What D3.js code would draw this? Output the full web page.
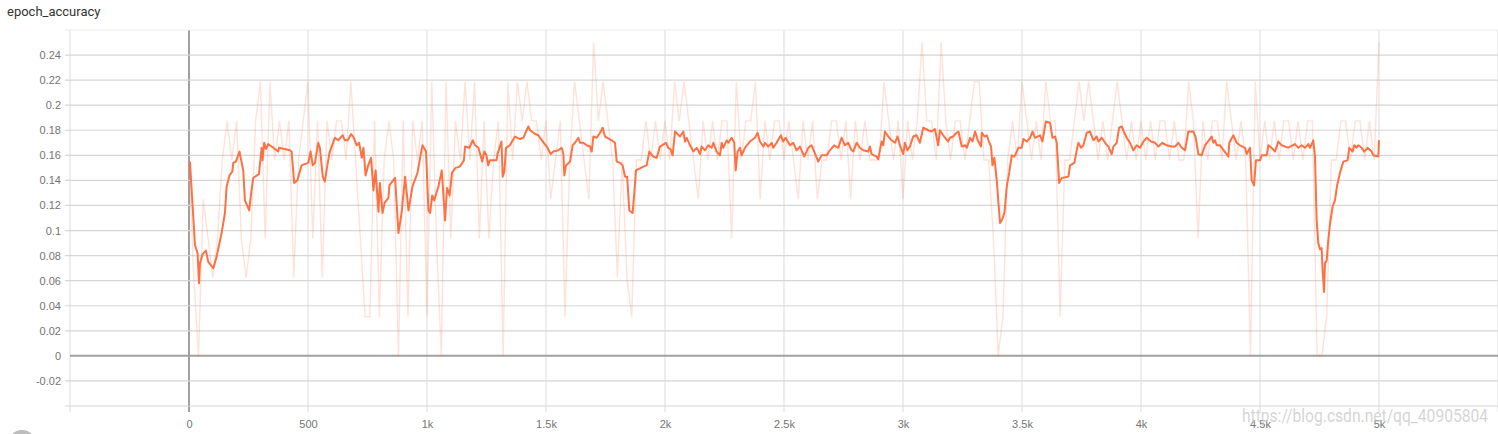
<!DOCTYPE html>
<meta charset='utf-8'>
<style>
body { margin: 0; background: #fff; }
svg { display: block; font-family: Roboto, 'Noto Sans', sans-serif; }
.title { font-size: 13px; fill: #333; }
.axis text { font-size: 11px; fill: #757575; }
.axis path { display: none; }
.watermark { font-size: 19px; fill: #c8c8c8; fill-opacity: 0.75; }
</style>
<svg width='1498' height='434'></svg>
<script src='https://d3js.org/d3.v7.min.js'></script>
<script>

// raw accuracy per logged point: correct predictions out of a batch of 32, one point every 20 steps
var rawEvery = 20;
var rawHits = [
  5,2,0,4,3,2,3,5,6,5,6,3,2,3,6,7,3,7,5,6,5,6,2,5,6,7,
  3,6,2,6,5,6,6,5,7,5,3,1,1,6,1,5,6,5,0,6,1,6,5,6,1,
  7,3,0,7,3,6,5,7,5,7,3,6,3,5,6,0,7,5,7,6,7,6,6,5,6,
  4,5,6,1,5,7,6,5,4,8,6,7,6,5,2,5,2,1,5,5,6,5,6,5,6,
  5,7,6,7,6,5,4,6,5,6,5,6,6,3,7,5,6,6,7,4,6,5,6,6,5,
  6,5,4,6,5,6,4,5,5,6,6,5,6,4,6,5,6,5,5,5,7,6,5,6,4,
  6,5,6,8,6,6,5,8,6,5,6,6,5,6,7,7,5,5,3,0,1,5,6,5,7,
  6,5,6,5,7,6,6,1,5,5,6,7,6,7,6,5,6,5,6,7,6,5,6,5,6,
  5,6,5,6,6,5,6,5,5,7,6,3,6,5,6,6,5,7,6,5,6,5,0,7,5,
  6,5,6,5,6,6,5,6,5,6,6,0,0,1,5,5,6,6,5,6,6,5,6,5,8
];
var batchSize = 32;

// smoothed curve as shown by the board: [step, value]
var smoothed = [
  [4,0.155],[25,0.0885],[36,0.082],[42,0.058],[46,0.074],[57,0.081],[71,0.084],[81,0.075],[102,0.070],
  [116,0.079],[137,0.098],[151,0.114],[158,0.135],[170,0.144],[182,0.147],[186,0.154],[197,0.155],
  [212,0.163],[228,0.148],[235,0.124],[253,0.116],[260,0.128],[270,0.142],[294,0.145],[305,0.166],
  [309,0.156],[316,0.170],[324,0.165],[333,0.169],[347,0.167],[375,0.163],[378,0.166],[424,0.164],
  [431,0.163],[442,0.138],[455,0.140],[473,0.152],[501,0.154],[511,0.163],[520,0.152],[529,0.154],
  [543,0.170],[550,0.166],[562,0.143],[571,0.139],[578,0.148],[590,0.162],[607,0.171],[613,0.174],
  [627,0.172],[646,0.176],[655,0.172],[667,0.172],[681,0.177],[690,0.175],[705,0.168],[715,0.170],
  [726,0.158],[733,0.166],[742,0.144],[753,0.152],[765,0.158],[775,0.132],[784,0.148],[796,0.115],
  [802,0.138],[813,0.114],[822,0.122],[838,0.126],[842,0.136],[866,0.142],[880,0.098],[894,0.115],
  [908,0.143],[922,0.116],[939,0.135],[960,0.146],[971,0.158],[981,0.168],[996,0.163],[1006,0.116],
  [1013,0.114],[1022,0.128],[1030,0.124],[1048,0.135],[1062,0.148],[1076,0.108],[1084,0.134],
  [1095,0.128],[1105,0.146],[1120,0.150],[1138,0.151],[1155,0.156],[1160,0.167],[1178,0.166],
  [1192,0.172],[1202,0.168],[1216,0.166],[1232,0.155],[1241,0.163],[1250,0.160],[1257,0.152],
  [1264,0.156],[1292,0.156],[1296,0.161],[1313,0.171],[1318,0.143],[1325,0.147],[1332,0.166],
  [1348,0.168],[1370,0.175],[1391,0.173],[1405,0.174],[1416,0.179],[1426,0.183],[1433,0.180],
  [1454,0.177],[1468,0.176],[1475,0.174],[1503,0.167],[1520,0.161],[1531,0.163],[1552,0.164],
  [1566,0.166],[1573,0.161],[1577,0.144],[1584,0.152],[1601,0.155],[1612,0.168],[1622,0.170],
  [1636,0.174],[1643,0.170],[1657,0.170],[1671,0.168],[1685,0.167],[1692,0.163],[1699,0.175],
  [1713,0.174],[1727,0.178],[1738,0.182],[1748,0.175],[1776,0.172],[1790,0.170],[1797,0.155],
  [1811,0.154],[1822,0.152],[1832,0.143],[1841,0.143],[1850,0.116],[1864,0.114],[1871,0.130],
  [1878,0.148],[1909,0.151],[1923,0.152],[1934,0.163],[1951,0.159],[1965,0.158],[1979,0.167],
  [2004,0.170],[2014,0.166],[2023,0.165],[2032,0.160],[2042,0.179],[2063,0.175],[2077,0.179],
  [2084,0.171],[2091,0.174],[2105,0.168],[2119,0.163],[2133,0.166],[2147,0.161],[2154,0.167],
  [2168,0.164],[2182,0.168],[2196,0.166],[2203,0.170],[2217,0.163],[2231,0.160],[2238,0.170],
  [2245,0.166],[2259,0.172],[2266,0.170],[2280,0.174],[2291,0.170],[2297,0.148],[2305,0.163],
  [2315,0.166],[2322,0.160],[2336,0.166],[2357,0.171],[2378,0.174],[2389,0.178],[2399,0.171],
  [2413,0.167],[2420,0.170],[2434,0.167],[2448,0.170],[2455,0.166],[2469,0.170],[2487,0.176],
  [2497,0.171],[2507,0.174],[2525,0.168],[2539,0.170],[2553,0.164],[2567,0.167],[2585,0.159],
  [2602,0.166],[2616,0.168],[2627,0.163],[2644,0.155],[2658,0.160],[2679,0.160],[2693,0.164],
  [2711,0.168],[2728,0.166],[2742,0.174],[2756,0.168],[2770,0.170],[2784,0.164],[2791,0.163],
  [2805,0.170],[2819,0.166],[2833,0.164],[2854,0.163],[2861,0.167],[2868,0.161],[2889,0.159],
  [2896,0.157],[2910,0.171],[2917,0.168],[2924,0.179],[2938,0.175],[2952,0.172],[2966,0.170],
  [2977,0.175],[2987,0.168],[3001,0.161],[3008,0.170],[3019,0.164],[3029,0.167],[3043,0.175],
  [3057,0.176],[3071,0.170],[3085,0.182],[3106,0.180],[3120,0.179],[3134,0.181],[3148,0.168],
  [3155,0.180],[3169,0.176],[3190,0.171],[3197,0.174],[3211,0.175],[3225,0.178],[3233,0.179],
  [3247,0.167],[3261,0.168],[3268,0.166],[3282,0.174],[3292,0.171],[3303,0.179],[3314,0.172],
  [3328,0.167],[3331,0.178],[3342,0.175],[3352,0.176],[3359,0.172],[3370,0.167],[3376,0.152],
  [3384,0.158],[3394,0.140],[3401,0.122],[3408,0.106],[3415,0.108],[3426,0.114],[3436,0.135],
  [3446,0.146],[3457,0.160],[3468,0.159],[3485,0.166],[3499,0.166],[3506,0.173],[3520,0.171],
  [3534,0.174],[3544,0.179],[3555,0.174],[3576,0.176],[3586,0.171],[3600,0.187],[3618,0.186],
  [3628,0.174],[3639,0.175],[3646,0.170],[3656,0.138],[3667,0.142],[3695,0.143],[3702,0.152],
  [3720,0.154],[3730,0.164],[3737,0.170],[3748,0.166],[3758,0.168],[3772,0.178],[3786,0.179],
  [3800,0.172],[3814,0.175],[3821,0.171],[3835,0.174],[3849,0.170],[3863,0.167],[3877,0.161],
  [3884,0.167],[3898,0.170],[3908,0.182],[3919,0.183],[3930,0.178],[3940,0.174],[3954,0.170],
  [3968,0.164],[3982,0.168],[3996,0.166],[4010,0.171],[4024,0.174],[4042,0.171],[4059,0.170],
  [4073,0.167],[4090,0.170],[4108,0.168],[4129,0.167],[4143,0.167],[4157,0.170],[4171,0.166],
  [4185,0.164],[4199,0.179],[4220,0.179],[4229,0.175],[4241,0.161],[4255,0.160],[4269,0.168],
  [4297,0.175],[4304,0.170],[4311,0.172],[4318,0.168],[4332,0.168],[4367,0.159],[4371,0.170],
  [4388,0.176],[4402,0.170],[4416,0.168],[4437,0.166],[4444,0.161],[4458,0.166],[4465,0.140],
  [4475,0.136],[4483,0.156],[4500,0.156],[4507,0.160],[4528,0.160],[4535,0.168],[4549,0.166],
  [4563,0.163],[4577,0.171],[4591,0.168],[4619,0.166],[4626,0.167],[4647,0.169],[4661,0.166],
  [4675,0.168],[4689,0.166],[4703,0.169],[4710,0.166],[4724,0.172],[4731,0.159],[4738,0.108],
  [4745,0.090],[4752,0.085],[4759,0.086],[4763,0.069],[4769,0.051],[4773,0.074],[4780,0.076],
  [4787,0.0925],[4794,0.105],[4805,0.119],[4815,0.124],[4824,0.136],[4836,0.146],[4850,0.155],
  [4868,0.156],[4875,0.166],[4889,0.163],[4896,0.168],[4906,0.166],[4913,0.168],[4927,0.166],
  [4938,0.163],[4952,0.166],[4969,0.163],[4976,0.160],[4997,0.159],[5000,0.172]
];

var xTicks = [-500, 0, 500, 1000, 1500, 2000, 2500, 3000, 3500, 4000, 4500, 5000, 5500];
var xTickLabels = ['', '0', '500', '1k', '1.5k', '2k', '2.5k', '3k', '3.5k', '4k', '4.5k', '5k', ''];
var yTicks = [-0.04, -0.02, 0, 0.02, 0.04, 0.06, 0.08, 0.1, 0.12, 0.14, 0.16, 0.18, 0.2, 0.22, 0.24, 0.26];
var yTickLabels = ['', '-0.02', '0', '0.02', '0.04', '0.06', '0.08', '0.1', '0.12', '0.14', '0.16', '0.18', '0.2', '0.22', '0.24', ''];

var svg = d3.select('svg'),
    plotBox = { x0: 70, x1: 1498, y0: 30, y1: 406 };

var x = d3.scaleLinear().domain([-500, 5500]).range([plotBox.x0, plotBox.x1]);
var y = d3.scaleLinear().domain([-0.04, 0.26]).range([plotBox.y1, plotBox.y0]);

var raw = rawHits.map(function(h, i) { return [i * rawEvery, h / batchSize]; });

svg.append('text')
    .attr('class', 'title')
    .attr('x', 7)
    .attr('y', 16)
    .text('epoch_accuracy');

// vertical grid
svg.append('g')
  .selectAll('line')
  .data(xTicks)
  .enter().append('line')
    .attr('x1', d => x(d)).attr('x2', d => x(d))
    .attr('y1', plotBox.y0).attr('y2', plotBox.y1 + 6)
    .attr('stroke', d => d === 0 ? '#a0a0a0' : '#e2e2e2')
    .attr('stroke-width', d => d === 0 ? 2 : 1.2);

// horizontal grid
svg.append('g')
  .selectAll('line')
  .data(yTicks)
  .enter().append('line')
    .attr('x1', d => d === 0 ? plotBox.x0 : plotBox.x0 - 5).attr('x2', plotBox.x1)
    .attr('y1', d => y(d)).attr('y2', d => y(d))
    .attr('stroke', d => d === 0 ? '#a0a0a0' : (d > 0.25 ? '#ececec' : '#d6d6d6'))
    .attr('stroke-width', d => d === 0 ? 2 : 1.2);

var yAxis = d3.axisLeft(y)
    .tickValues(yTicks)
    .tickSize(0)
    .tickPadding(9)
    .tickFormat((d, i) => yTickLabels[i]);

svg.append('g')
    .attr('class', 'axis')
    .attr('transform', 'translate(' + plotBox.x0 + ',0)')
    .call(yAxis);

var xAxis = d3.axisBottom(x)
    .tickValues(xTicks)
    .tickSize(0)
    .tickPadding(14)
    .tickFormat((d, i) => xTickLabels[i]);

svg.append('g')
    .attr('class', 'axis')
    .attr('transform', 'translate(0,' + plotBox.y1 + ')')
    .call(xAxis);

svg.append('clipPath')
    .attr('id', 'plot')
  .append('rect')
    .attr('x', plotBox.x0).attr('y', plotBox.y0)
    .attr('width', plotBox.x1 - plotBox.x0).attr('height', plotBox.y1 - plotBox.y0);

var line = d3.line()
    .x(d => x(d[0]))
    .y(d => y(d[1]));

var plot = svg.append('g').attr('clip-path', 'url(#plot)');

plot.append('path')
    .datum(raw)
    .attr('fill', 'none')
    .attr('stroke', '#ff7043')
    .attr('stroke-opacity', 0.2)
    .attr('stroke-width', 1.4)
    .attr('d', line);

plot.append('path')
    .datum(smoothed)
    .attr('fill', 'none')
    .attr('stroke', '#ff7043')
    .attr('stroke-width', 2)
    .attr('stroke-linejoin', 'round')
    .attr('d', line);

// little round button peeking in at the bottom left
svg.append('circle')
    .attr('cx', 22)
    .attr('cy', 444)
    .attr('r', 14)
    .attr('fill', '#bdbdbd');

svg.append('text')
    .attr('class', 'watermark')
    .attr('x', 1242)
    .attr('y', 422)
    .attr('textLength', 246)
    .attr('lengthAdjust', 'spacingAndGlyphs')
    .text('https://blog.csdn.net/qq_40905804');

</script>
